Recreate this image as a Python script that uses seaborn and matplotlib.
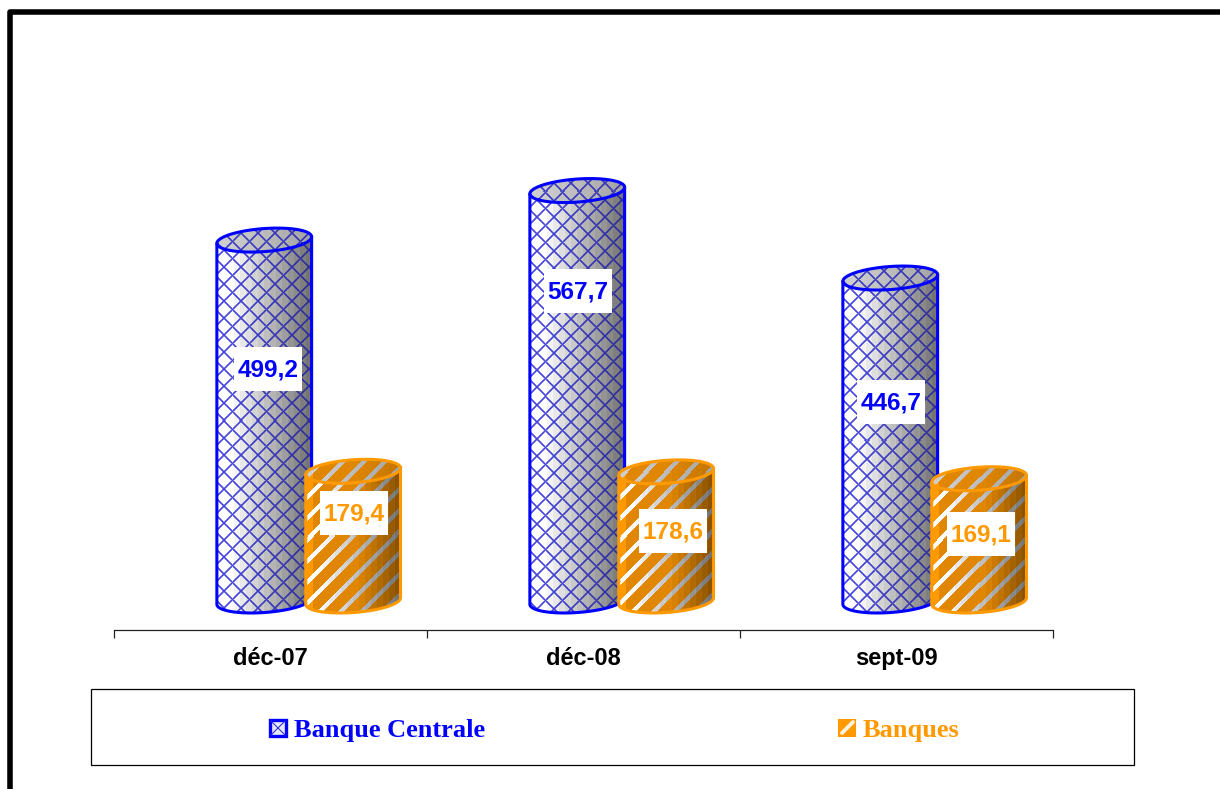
import numpy as np
import pandas as pd
import seaborn as sns
import matplotlib.pyplot as plt
from matplotlib.patches import PathPatch, Rectangle
from matplotlib.path import Path

dates = ["déc-07", "déc-08", "sept-09"]
banque_centrale = [499.2, 567.7, 446.7]
banques = [179.4, 178.6, 169.1]
series = ["Banque Centrale", "Banques"]
value_labels = ["499,2", "567,7", "446,7", "179,4", "178,6", "169,1"]

BLUE = "#0000FF"
ORANGE = "#FF9900"

# layout in pixels of the 1220x789 picture
W, H = 1220, 789
AX_L, AX_R, AX_BASE, AX_TOP = 114, 1053, 630, 20
ZERO_Y = 601
PPX = (AX_R - AX_L) / 3
PPY = 0.723
label_boxes = [(268, 369), (578, 291), (891, 402), (354, 513), (673, 531), (981, 534)]

sns.set_theme(style="white")
plt.rcParams["font.family"] = ["Liberation Sans", "DejaVu Sans"]

df = pd.DataFrame({
    "date": dates * 2,
    "serie": [series[0]] * 3 + [series[1]] * 3,
    "valeur": banque_centrale + banques,
})

fig = plt.figure(figsize=(W / 100, H / 100), dpi=100, facecolor="white")
ax = fig.add_axes([AX_L / W, 1 - AX_BASE / H, (AX_R - AX_L) / W, (AX_BASE - AX_TOP) / H])
sns.barplot(data=df, x="date", y="valeur", hue="serie", hue_order=series, order=dates,
            width=0.568, legend=False, ax=ax)


def ellipse(cx, cy, t, a=47.5, b=11.5, theta=np.radians(4.2)):
    # cx, cy in data units, a and b in pixels
    x = a * np.cos(t)
    y = b * np.sin(t)
    xr = x * np.cos(theta) + y * np.sin(theta)
    yr = -x * np.sin(theta) + y * np.cos(theta)
    return np.column_stack([cx + xr / PPX, cy - yr / PPY])


def shade(nx):
    # stepped left-to-right shading, like the bands of the original cylinder
    u = np.floor(np.arange(nx) / 6) * 6 / nx
    s = 1.08 - 0.68 * u
    s[np.arange(nx) % 6 == 0] += 0.05
    return np.clip(s, 0, 1)


def texture(nx, ny, kind, top=False):
    xx, yy = np.meshgrid(np.arange(nx), np.arange(ny))
    s = shade(nx)[None, :, None]
    if top:
        s = 0.62 + (s - 0.38) * 0.3
    grey = np.ones((ny, nx, 3)) * s
    if kind == 0:
        p = 17
        u = (xx + yy) % p
        v = (xx - yy) % p
        d = np.minimum(np.minimum(u, p - u), np.minimum(v, p - v))
        m = np.clip(1.7 - d, 0, 1)[:, :, None] * 0.9
        col = np.array([0.2, 0.2, 0.85]) * (0.5 + 0.5 * s)
        grey = grey * (1 - m) + col * m
    else:
        p = 21
        u = (xx + yy) % p
        m = u > 5
        f = np.clip(s * 1.2, 0, 0.88)
        f[0, :9, 0] = 1.0
        col = np.array([1.0, 0.6, 0.0])
        grey[m] = col * f[0, :, 0][xx[m]][:, None]
    return grey


ax.set_xlim(-0.5, 2.5)
ax.set_ylim(-(AX_BASE - ZERO_Y) / PPY, (ZERO_Y - AX_TOP) / PPY)

for k, (cont, color) in enumerate(zip(ax.containers, [BLUE, ORANGE])):
    for bar in cont:
        cx = bar.get_x() + bar.get_width() / 2 + 0.122
        h = bar.get_height()
        bar.set_visible(False)
        z = 3 + k
        low = np.linspace(np.pi, 0, 50)
        upp = np.linspace(np.pi, 2 * np.pi, 50)
        sil = np.vstack([ellipse(cx, 0, low), ellipse(cx, h, upp[::-1]), ellipse(cx, 0, low[:1])])
        x0, x1 = cx - 49 / PPX, cx + 49 / PPX
        y0, y1 = -16 / PPY, h + 16 / PPY
        ny = int((y1 - y0) * PPY)
        im = ax.imshow(texture(98, ny, k), extent=(x0, x1, y0, y1), aspect="auto",
                       interpolation="nearest", zorder=z)
        im.set_clip_path(PathPatch(Path(sil), transform=ax.transData))
        tt = np.linspace(0, 2 * np.pi, 100)
        cap = ellipse(cx, h, tt)
        y0c, y1c = h - 16 / PPY, h + 16 / PPY
        im2 = ax.imshow(texture(98, 32, k, top=True), extent=(x0, x1, y0c, y1c), aspect="auto",
                        interpolation="nearest", zorder=z)
        im2.set_clip_path(PathPatch(Path(cap), transform=ax.transData))
        ax.plot(*np.vstack([ellipse(cx, h, low[:1]), ellipse(cx, 0, low), ellipse(cx, h, low[-1:])]).T,
                color=color, lw=2.2, zorder=z + 0.1, solid_capstyle="round")
        ax.plot(*cap.T, color=color, lw=2.2, zorder=z + 0.1)

ax.set_xlim(-0.5, 2.5)
ax.set_ylim(-(AX_BASE - ZERO_Y) / PPY, (ZERO_Y - AX_TOP) / PPY)
ax.set_xticks([-0.5, 0.5, 1.5, 2.5])
ax.set_xticklabels([])
ax.set_xticks([0, 1, 2], minor=True)
ax.set_xticklabels(dates, minor=True, fontsize=17, fontweight="bold", color="black")
ax.tick_params(axis="x", which="major", length=5.5, width=0.9, color="#222222", bottom=True)
ax.tick_params(axis="x", which="minor", length=0, pad=12.5)
ax.set_xlabel("")
ax.set_ylabel("")
ax.set_yticks([])
ax.patch.set_alpha(0)
for side in ["top", "left", "right"]:
    ax.spines[side].set_visible(False)
ax.spines["bottom"].set_color("#222222")
ax.spines["bottom"].set_linewidth(0.9)

# pixel overlay for frame, value boxes and legend
ov = fig.add_axes([0, 0, 1, 1], zorder=5)
ov.set_xlim(0, W)
ov.set_ylim(H, 0)
ov.axis("off")

ov.plot([10, 10, W + 5], [H + 5, 11.5, 11.5], color="black", lw=4,
        solid_joinstyle="round", clip_on=True)

for i, (lab, (bx, by)) in enumerate(zip(value_labels, label_boxes)):
    ov.add_patch(Rectangle((bx - 34, by - 22), 68, 44, facecolor="white", edgecolor="none"))
    ov.text(bx, by + 1, lab, ha="center", va="center", fontsize=17.6, fontweight="bold",
            color=BLUE if i < 3 else ORANGE)

ov.add_patch(Rectangle((91, 689), 1043, 76, facecolor="none", edgecolor="black", lw=0.9))

ov.add_patch(Rectangle((270, 720), 16, 16, facecolor="#E8E8FF", edgecolor=BLUE, lw=2.4))
ov.plot([271, 285], [721, 735], color="#3333DD", lw=0.8)
ov.plot([271, 285], [735, 721], color="#3333DD", lw=0.8)
ov.text(294, 730, series[0], ha="left", va="center", fontsize=19, fontweight="bold",
        family="Liberation Serif", color=BLUE)

ov.add_patch(Rectangle((838, 719), 18, 18, facecolor=ORANGE, edgecolor="none"))
ov.plot([842, 853], [733, 722], color="#FFF2DD", lw=2.8)
ov.text(863, 730, series[1], ha="left", va="center", fontsize=19, fontweight="bold",
        family="Liberation Serif", color=ORANGE)

fig.savefig("out.png", dpi=100, facecolor="white")
